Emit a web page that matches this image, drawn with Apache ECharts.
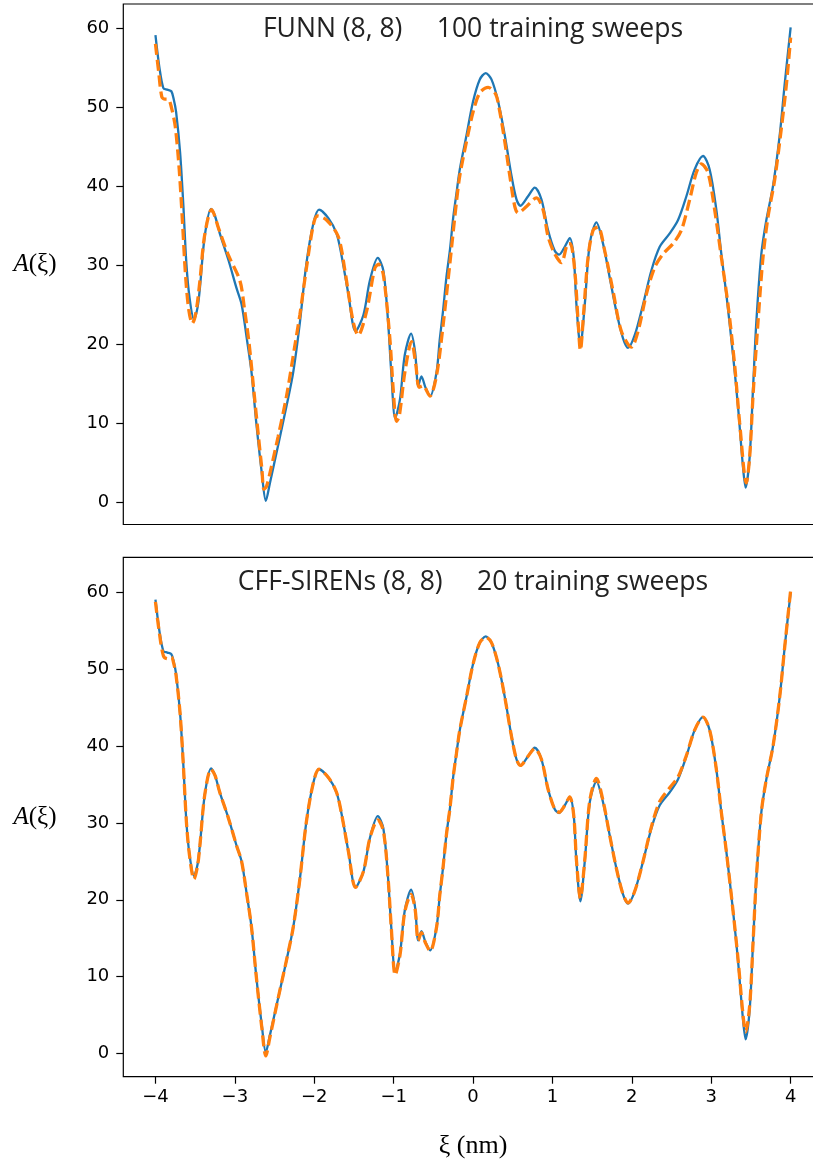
<!DOCTYPE html>
<html>
<head>
<meta charset="utf-8">
<script src="https://cdn.jsdelivr.net/npm/echarts@6/dist/echarts.min.js"></script>
<style>
html,body{margin:0;padding:0;background:#fff;}
#c{width:813px;height:1163px;}
</style>
</head>
<body>
<div id="c"></div>
<script>
// ---- data ----
const xiTrue = [-4.0,-3.95,-3.90,-3.85,-3.80,-3.77,-3.74,-3.69,-3.65,-3.61,-3.57,-3.515,-3.47,-3.44,-3.38,-3.30,-3.25,-3.19,-3.08,-2.98,-2.915,-2.85,-2.79,-2.73,-2.66,-2.61,-2.56,-2.45,-2.35,-2.265,-2.18,-2.10,-2.01,-1.94,-1.82,-1.72,-1.66,-1.57,-1.48,-1.38,-1.30,-1.20,-1.13,-1.07,-1.03,-0.98,-0.92,-0.86,-0.78,-0.73,-0.69,-0.65,-0.60,-0.54,-0.46,-0.42,-0.38,-0.335,-0.29,-0.25,-0.21,-0.167,-0.083,0.0,0.085,0.16,0.232,0.316,0.40,0.484,0.547,0.597,0.693,0.777,0.861,0.945,1.029,1.084,1.155,1.218,1.268,1.302,1.352,1.407,1.47,1.554,1.637,1.721,1.805,1.889,1.952,2.036,2.141,2.246,2.351,2.477,2.582,2.687,2.791,2.896,2.98,3.064,3.127,3.19,3.274,3.337,3.40,3.433,3.484,3.526,3.568,3.631,3.694,3.778,3.862,3.924,4.0];
const aTrue = [59.1,55.0,52.4,52.2,52.0,51.0,49.4,44.3,37.8,30.1,25.8,23.1,24.6,27.1,33.6,37.1,36.2,34.0,30.6,27.1,25.0,20.7,16.4,10.0,3.6,0.13,2.3,7.4,12.1,16.4,22.8,30.1,35.3,37.0,35.9,34.0,31.4,26.3,21.6,23.7,28.0,30.9,29.3,22.8,16.4,10.6,13.0,18.6,21.3,19.0,14.7,15.9,14.5,13.4,16.4,20.5,24.0,28.5,32.0,36.0,39.0,42.1,46.4,50.7,53.5,54.3,53.5,50.7,46.4,41.3,38.3,37.5,38.7,39.8,38.3,34.4,31.8,31.3,32.3,33.4,31.0,25.0,19.8,25.0,32.7,35.4,32.7,28.4,24.1,20.7,19.5,21.1,25.0,29.3,32.3,34.0,35.7,38.7,42.1,43.8,42.1,37.0,31.4,26.3,18.6,12.1,4.4,1.8,5.7,14.3,22.8,31.4,35.7,40.0,46.4,52.8,60.1];
// CFF-SIRENs fit (same xi grid as the true curve)
const aSiren = [58.8,54.7,51.8,51.4,51.6,50.8,49.2,44.3,37.8,30.1,25.7,22.7,24.4,27.1,33.6,37.0,36.2,34.0,30.6,27.1,25.0,20.7,16.4,10.0,3.3,-0.35,2.0,7.4,12.1,16.4,22.8,30.1,35.3,37.0,35.9,34.0,31.4,26.3,21.6,23.7,28.0,30.4,29.0,22.8,16.4,10.2,12.8,18.4,20.7,18.8,14.7,15.7,14.4,13.3,16.4,20.5,24.0,28.5,32.0,36.0,39.0,42.1,46.4,50.7,53.5,54.2,53.5,50.7,46.4,41.3,38.3,37.5,38.7,39.7,38.3,34.4,31.8,31.4,32.3,33.4,31.0,25.2,20.2,25.2,32.9,35.8,32.9,28.4,24.1,20.7,19.6,21.1,25.0,29.5,32.8,34.6,36.0,38.8,42.1,43.8,42.1,37.0,31.4,26.3,18.6,12.3,5.0,2.8,6.2,14.3,22.8,31.4,35.7,40.0,46.4,52.8,60.3];
// FUNN fit
const xiFunn = [-4.0,-3.96,-3.92,-3.88,-3.84,-3.80,-3.75,-3.70,-3.66,-3.62,-3.58,-3.536,-3.49,-3.44,-3.38,-3.293,-3.20,-3.08,-2.936,-2.88,-2.82,-2.76,-2.70,-2.66,-2.634,-2.60,-2.559,-2.454,-2.349,-2.244,-2.181,-2.097,-2.013,-1.96,-1.845,-1.698,-1.614,-1.51,-1.447,-1.342,-1.237,-1.19,-1.13,-1.048,-1.006,-0.964,-0.93,-0.859,-0.775,-0.72,-0.68,-0.63,-0.544,-0.46,-0.377,-0.293,-0.209,-0.167,-0.083,0.001,0.085,0.19,0.286,0.337,0.40,0.463,0.526,0.568,0.673,0.799,0.882,0.945,1.029,1.113,1.197,1.226,1.281,1.323,1.352,1.394,1.449,1.512,1.575,1.658,1.763,1.868,1.994,2.078,2.183,2.288,2.393,2.519,2.624,2.729,2.812,2.875,2.959,3.043,3.127,3.211,3.295,3.358,3.442,3.484,3.526,3.589,3.652,3.715,3.799,3.883,3.946,4.0];
const aFunn = [58.0,54.5,51.3,51.0,51.0,50.0,47.5,42.0,35.5,28.5,24.3,22.6,24.0,28.0,33.8,37.0,34.5,31.2,28.0,24.5,20.0,14.0,8.0,4.2,1.6,2.0,3.6,8.3,13.4,19.8,23.7,29.7,35.0,36.2,35.7,33.6,29.3,22.8,21.1,24.1,29.6,30.1,28.8,20.7,14.3,10.2,10.8,16.4,20.3,17.3,14.5,14.7,13.4,16.0,22.4,30.1,38.0,41.3,45.6,49.4,51.8,52.5,51.6,49.4,45.6,41.3,37.4,36.6,37.4,38.5,37.0,33.6,31.4,30.3,32.7,32.7,29.3,22.8,19.2,24.1,31.0,34.4,34.8,31.8,26.7,21.6,19.6,21.6,26.3,29.7,31.4,32.7,34.4,38.3,41.7,42.8,41.7,37.0,31.0,25.0,17.3,10.0,2.4,5.7,13.4,22.8,31.0,36.1,40.8,47.3,52.8,58.8];
const yTicks = [0,10,20,30,40,50,60];
const xTicks = [-4,-3,-2,-1,0,1,2,3,4];
const titleTop = 'FUNN (8, 8)     100 training sweeps';
const titleBottom = 'CFF-SIRENs (8, 8)     20 training sweeps';
const yLabel = '{a|A}(ξ)';
const xLabel = 'ξ (nm)';

const zip = (xs, ys) => xs.map((x, i) => [x, ys[i]]);

const chart = echarts.init(document.getElementById('c'), null, {renderer: 'canvas', width: 813, height: 1163});

const BLUE = '#1f77b4', ORANGE = '#ff7f0e';
const tickFont = {fontFamily: 'DejaVu Sans', fontSize: 18, color: '#000'};
const fmt = v => String(v).replace('-', '\u2212');

function yAxisCfg(gi, min, max) {
  return {
    type: 'value', gridIndex: gi, min: min, max: max, position: 'left',
    axisLine: {show: false, onZero: false},
    splitLine: {show: false},
    axisTick: {show: true, length: 7, inside: false, customValues: yTicks, lineStyle: {color: '#000', width: 1.2}},
    axisLabel: Object.assign({show: true, margin: 14, customValues: yTicks, formatter: fmt}, tickFont)
  };
}
function xAxisCfg(gi, showLabels) {
  return {
    type: 'value', gridIndex: gi, min: -4.405, max: 4.405, position: 'bottom',
    axisLine: {show: false, onZero: false},
    splitLine: {show: false},
    axisTick: {show: showLabels, length: 7, inside: false, customValues: xTicks, lineStyle: {color: '#000', width: 1.2}},
    axisLabel: Object.assign({show: showLabels, margin: 12, customValues: xTicks, formatter: fmt}, tickFont)
  };
}

const gridBase = {show: true, borderColor: '#000', borderWidth: 1.2, backgroundColor: 'transparent', containLabel: false, outerBoundsMode: 'none', left: 123.3, width: 699.5};

const lineBlue = {color: BLUE, width: 2.3};
const lineOrange = {color: ORANGE, width: 3.3, type: [11, 5]};

chart.setOption({
  animation: false,
  backgroundColor: '#fff',
  grid: [
    Object.assign({}, gridBase, {top: 4, height: 520.5}),
    Object.assign({}, gridBase, {top: 557.3, height: 519.4})
  ],
  xAxis: [xAxisCfg(0, false), xAxisCfg(1, true)],
  yAxis: [yAxisCfg(0, -2.87, 63.05), yAxisCfg(1, -3.05, 64.61)],
  series: [
    {type: 'line', xAxisIndex: 0, yAxisIndex: 0, data: zip(xiTrue, aTrue), showSymbol: false, smooth: 0.3, lineStyle: lineBlue, z: 2},
    {type: 'line', xAxisIndex: 0, yAxisIndex: 0, data: zip(xiFunn, aFunn), showSymbol: false, smooth: 0.3, lineStyle: lineOrange, z: 3},
    {type: 'line', xAxisIndex: 1, yAxisIndex: 1, data: zip(xiTrue, aTrue), showSymbol: false, smooth: 0.3, lineStyle: lineBlue, z: 2},
    {type: 'line', xAxisIndex: 1, yAxisIndex: 1, data: zip(xiTrue, aSiren), showSymbol: false, smooth: 0.3, lineStyle: lineOrange, z: 3}
  ],
  graphic: [
    {type: 'text', x: 473, y: 29, z: 10, style: {text: titleTop, align: 'center', verticalAlign: 'middle', fontFamily: 'Open Sans', fontSize: 26.5, fill: '#222'}},
    {type: 'text', x: 473, y: 582, z: 10, style: {text: titleBottom, align: 'center', verticalAlign: 'middle', fontFamily: 'Open Sans', fontSize: 26.5, fill: '#222'}},
    {type: 'text', x: 35, y: 264, z: 10, style: {text: yLabel, rich: {a: {fontStyle: 'italic', fontFamily: 'Liberation Serif', fontSize: 25}}, align: 'center', verticalAlign: 'middle', fontFamily: 'Liberation Serif', fontSize: 25, fill: '#000'}},
    {type: 'text', x: 35, y: 817, z: 10, style: {text: yLabel, rich: {a: {fontStyle: 'italic', fontFamily: 'Liberation Serif', fontSize: 25}}, align: 'center', verticalAlign: 'middle', fontFamily: 'Liberation Serif', fontSize: 25, fill: '#000'}},
    {type: 'text', x: 473, y: 1146, z: 10, style: {text: xLabel, align: 'center', verticalAlign: 'middle', fontFamily: 'Liberation Serif', fontSize: 26, fill: '#000'}}
  ]
});
</script>
</body>
</html>
